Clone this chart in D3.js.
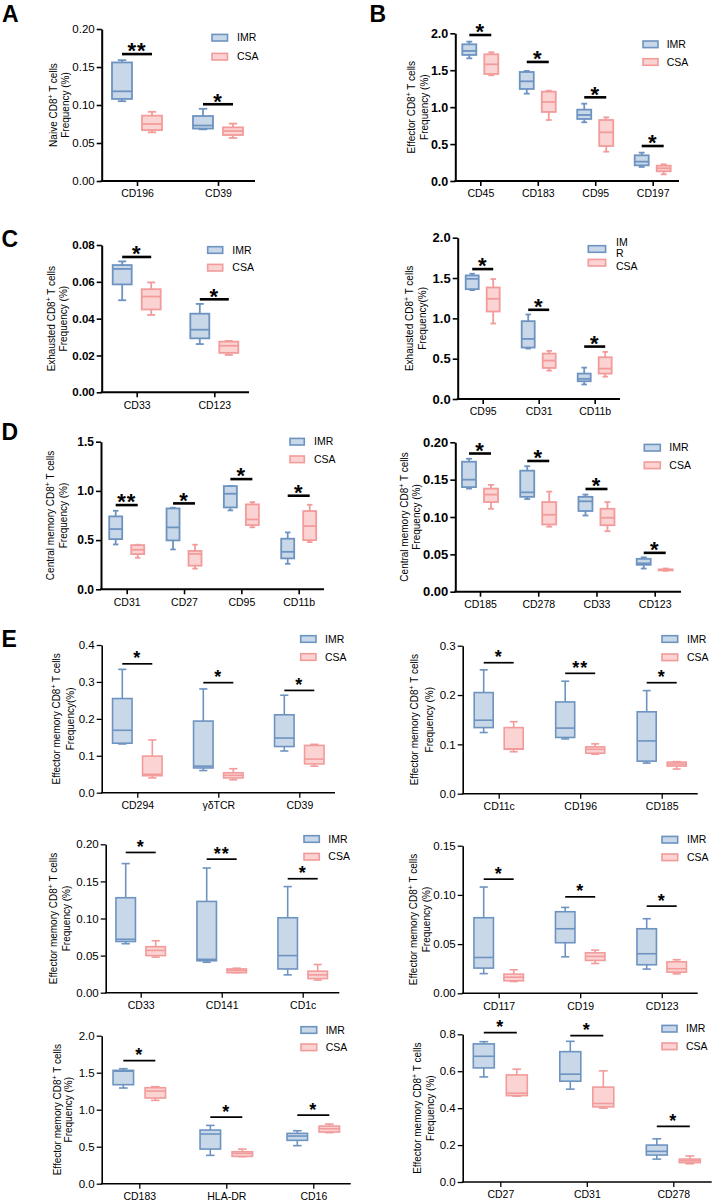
<!DOCTYPE html>
<html><head><meta charset="utf-8">
<script src="https://cdn.jsdelivr.net/npm/d3@7"></script>
<style>
body{margin:0;background:#fff;}
svg text{font-family:Arial,"Liberation Sans",sans-serif;}
</style></head><body>
<svg id="fig" width="712" height="1201"></svg>
<script>
// ---------------- DATA ----------------
// each box: [min, q1, median, q3, max]
const series = ["IMR", "CSA"];

const catsA = ["CD196", "CD39"];
const imrA = [[0.105,0.108,0.118,0.156,0.159],[0.068,0.069,0.073,0.0855,0.095]];
const csaA = [[0.064,0.067,0.075,0.086,0.091],[0.0566,0.0605,0.0658,0.0706,0.0755]];
const sigA = ["**","*"];
const sigYA = [0.167,0.101];
const ticksA = [0,0.05,0.10,0.15,0.20];
const titleA = ["Naive CD8⁺ T cells","Frequency (%)"];

const catsB = ["CD45","CD183","CD95","CD197"];
const imrB = [[1.661,1.707,1.761,1.851,1.887],[1.183,1.246,1.350,1.476,1.490],[0.795,0.840,0.894,0.966,1.047],[0.190,0.212,0.262,0.348,0.384]];
const csaB = [[1.431,1.449,1.580,1.716,1.743],[0.826,0.935,1.070,1.210,1.223],[0.397,0.474,0.659,0.826,0.862],[0.090,0.131,0.172,0.208,0.226]];
const sigB = ["*","*","*","*"];
const sigYB = [1.977,1.612,1.133,0.474];
const ticksB = [0,0.5,1.0,1.5,2.0];
const titleB = ["Effector CD8⁺ T cells","Frequency (%)"];

const catsC1 = ["CD33","CD123"];
const imrC1 = [[0.050,0.0586,0.067,0.0691,0.0711],[0.0262,0.0293,0.034,0.0427,0.048]];
const csaC1 = [[0.042,0.045,0.052,0.056,0.0597],[0.0203,0.0214,0.0253,0.0275,0.0279]];
const sigC1 = ["*","*"];
const sigYC1 = [0.0735,0.0505];
const ticksC1 = [0,0.02,0.04,0.06,0.08];
const titleC1 = ["Exhausted CD8⁺ T cells","Frequency (%)"];

const catsC2 = ["CD95","CD31","CD11b"];
const imrC2 = [[1.35,1.362,1.49,1.532,1.553],[0.625,0.638,0.745,0.965,1.048],[0.18,0.22,0.25,0.315,0.389]];
const csaC2 = [[0.936,1.085,1.242,1.383,1.487],[0.352,0.385,0.476,0.563,0.596],[0.277,0.315,0.377,0.518,0.584]];
const sigC2 = ["*","*","*"];
const sigYC2 = [1.611,1.106,0.650];
const ticksC2 = [0,0.5,1.0,1.5,2.0];
const titleC2 = ["Exhausted CD8⁺ T cells","Frequency(%)"];

const catsD1 = ["CD31","CD27","CD95","CD11b"];
const imrD1 = [[0.456,0.510,0.612,0.741,0.798],[0.405,0.497,0.629,0.822,0.829],[0.802,0.832,0.971,1.049,1.049],[0.259,0.314,0.381,0.514,0.578]];
const csaD1 = [[0.320,0.358,0.402,0.449,0.453],[0.21,0.24,0.36,0.39,0.453],[0.63,0.653,0.71,0.863,0.886],[0.480,0.500,0.642,0.795,0.859]];
const sigD1 = ["**","*","*","*"];
const sigYD1 = [0.856,0.873,1.120,0.951];
const ticksD1 = [0,0.5,1.0,1.5];
const titleD1 = ["Central memory CD8⁺ T cells","Frequency (%)"];

const catsD2 = ["CD185","CD278","CD33","CD123"];
const imrD2 = [[0.138,0.140,0.150,0.174,0.178],[0.124,0.127,0.133,0.162,0.168],[0.102,0.108,0.121,0.127,0.130],[0.031,0.036,0.038,0.044,0.046]];
const csaD2 = [[0.111,0.120,0.130,0.138,0.143],[0.087,0.090,0.103,0.120,0.134],[0.081,0.089,0.099,0.111,0.120],[0.028,0.0285,0.029,0.030,0.031]];
const sigD2 = ["*","*","*","*"];
const sigYD2 = [0.185,0.175,0.1375,0.052];
const ticksD2 = [0,0.05,0.10,0.15,0.20];
const titleD2 = ["Central memory CD8⁺ T cells","Frequency (%)"];

const catsE1 = ["CD294","γδTCR","CD39"];
const imrE1 = [[0.132,0.134,0.169,0.255,0.334],[0.060,0.067,0.072,0.194,0.281],[0.113,0.125,0.148,0.211,0.264]];
const csaE1 = [[0.040,0.046,0.050,0.099,0.143],[0.035,0.040,0.047,0.054,0.065],[0.072,0.078,0.091,0.128,0.131]];
const sigE1 = ["*","*","*"];
const sigYE1 = [0.349,0.298,0.277];
const ticksE1 = [0,0.1,0.2,0.3,0.4];
const titleE1 = ["Effector memory CD8⁺ T cells","Frequency(%)"];

const catsE2 = ["CD11c","CD196","CD185"];
const imrE2 = [[0.124,0.134,0.149,0.205,0.251],[0.111,0.114,0.133,0.186,0.228],[0.062,0.066,0.107,0.166,0.209]];
const csaE2 = [[0.085,0.090,0.091,0.134,0.146],[0.080,0.082,0.090,0.095,0.101],[0.050,0.056,0.060,0.064,0.065]];
const sigE2 = ["*","**","*"];
const sigYE2 = [0.2655,0.244,0.225];
const ticksE2 = [0,0.1,0.2,0.3];
const titleE2 = ["Effector memory CD8⁺ T cells","Frequency (%)"];

const catsE3 = ["CD33","CD141","CD1c"];
const imrE3 = [[0.066,0.069,0.072,0.128,0.174],[0.041,0.043,0.045,0.123,0.168],[0.024,0.032,0.050,0.101,0.143]];
const csaE3 = [[0.048,0.050,0.057,0.062,0.070],[0.027,0.027,0.030,0.032,0.033],[0.017,0.019,0.024,0.029,0.038]];
const sigE3 = ["*","**","*"];
const sigYE3 = [0.189,0.180,0.1536];
const ticksE3 = [0,0.05,0.10,0.15,0.20];
const titleE3 = ["Effector memory CD8⁺ T cells","Frequency (%)"];

const catsE4 = ["CD117","CD19","CD123"];
const imrE4 = [[0.020,0.0256,0.0364,0.0768,0.108],[0.0371,0.0514,0.0656,0.0829,0.0873],[0.0246,0.029,0.0402,0.0656,0.0758]];
const csaE4 = [[0.012,0.0127,0.0164,0.0195,0.0239],[0.0303,0.0334,0.0375,0.0412,0.0439],[0.0198,0.0215,0.025,0.032,0.0341]];
const sigE4 = ["*","*","*"];
const sigYE4 = [0.116,0.098,0.0886];
const ticksE4 = [0,0.05,0.10,0.15];
const titleE4 = ["Effector memory CD8⁺ T cells","Frequency (%)"];

const catsE5 = ["CD183","HLA-DR","CD16"];
const imrE5 = [[1.293,1.338,1.52,1.532,1.554],[0.383,0.468,0.671,0.725,0.788],[0.514,0.586,0.644,0.680,0.716]];
const csaE5 = [[1.126,1.158,1.252,1.297,1.311],[0.365,0.369,0.410,0.432,0.468],[0.690,0.698,0.743,0.779,0.806]];
const sigE5 = ["*","*","*"];
const sigYE5 = [1.662,0.901,0.928];
const ticksE5 = [0,0.5,1.0,1.5,2.0];
const titleE5 = ["Effector memory CD8⁺ T cells","Frequency (%)"];

const catsE6 = ["CD27","CD31","CD278"];
const imrE6 = [[0.569,0.618,0.681,0.748,0.760],[0.503,0.546,0.584,0.706,0.762],[0.124,0.146,0.166,0.200,0.234]];
const csaE6 = [[0.465,0.468,0.481,0.580,0.611],[0.400,0.407,0.425,0.514,0.602],[0.099,0.105,0.115,0.124,0.141]];
const sigE6 = ["*","*","*"];
const sigYE6 = [0.809,0.793,0.301];
const ticksE6 = [0,0.2,0.4,0.6,0.8];
const titleE6 = ["Effector memory CD8⁺ T cells","Frequency (%)"];

const letters = ["A","B","C","D","E"];

// ---------------- STYLE / LAYOUT ----------------
const COL = {
  IMR: {stroke:"#6d93c1", fill:"#c9d8e8"},
  CSA: {stroke:"#f29b9b", fill:"#fcd3d3"}
};
const styleOld = {aw:2, bsw:1.8, sw:2.6, starFs:22, starDy:4.4};
const styleE   = {aw:1.6, bsw:1.6, sw:1.7, starFs:18, starDy:0.6};

const panels = [
 {L:{ax:101.7,yTop:29,yBot:181,xEnd:255,tx:[137,218],fmt:".2f",tfs:11.5,tbold:false,off:15,bw:20,legX:212,legW:15.5,legY:[37.7,56.7],legTX:237,lab:[-48.4,-36.7]},S:styleOld,
  cats:catsA,imr:imrA,csa:csaA,sig:sigA,sigY:sigYA,ticks:ticksA,title:titleA},
 {L:{ax:455.3,yTop:33.3,yBot:181,xEnd:679,tx:[480.3,652.7],fmt:".1f",tfs:12.5,tbold:true,off:11,bw:14,legX:643,legW:15,legY:[44.3,62],legTX:666.7,lab:[-44.3,-31]},S:styleOld,
  cats:catsB,imr:imrB,csa:csaB,sig:sigB,sigY:sigYB,ticks:ticksB,title:titleB},
 {L:{ax:101.7,yTop:245,yBot:392.3,xEnd:249,tx:[136.7,214.3],fmt:".2f",tfs:11.5,tbold:true,off:14.5,bw:19,legX:207.7,legW:15,legY:[250,267.7],legTX:232.3,lab:[-50.7,-38.4]},S:styleOld,
  cats:catsC1,imr:imrC1,csa:csaC1,sig:sigC1,sigY:sigYC1,ticks:ticksC1,title:titleC1},
 {L:{ax:457.7,yTop:237.7,yBot:399,xEnd:620,tx:[482.7,594.7],fmt:".1f",tfs:13,tbold:true,off:10.5,bw:13,legX:588.3,legW:17.3,legY:[249,262.7],legTX:616,lab:[-48.4,-35],wrap:true},S:styleOld,
  cats:catsC2,imr:imrC2,csa:csaC2,sig:sigC2,sigY:sigYC2,ticks:ticksC2,title:titleC2},
 {L:{ax:101,yTop:441.7,yBot:589.3,xEnd:324,tx:[126.7,298.7],fmt:".1f",tfs:12,tbold:true,off:11,bw:13,legX:290,legW:14.3,legY:[441.7,459.3],legTX:314,lab:[-51,-38]},S:styleOld,
  cats:catsD1,imr:imrD1,csa:csaD1,sig:sigD1,sigY:sigYD1,ticks:ticksD1,title:titleD1},
 {L:{ax:455.3,yTop:442.3,yBot:591.7,xEnd:681,tx:[480,654.7],fmt:".2f",tfs:13,tbold:true,off:11,bw:14,legX:644.3,legW:16,legY:[447.7,465.3],legTX:669.3,lab:[-51,-39]},S:styleOld,
  cats:catsD2,imr:imrD2,csa:csaD2,sig:sigD2,sigY:sigYD2,ticks:ticksD2,title:titleD2},
 {L:{ax:101.7,yTop:645,yBot:792.7,xEnd:335,tx:[137.3,299.3],fmt:".1f",tfs:11.5,tbold:false,off:15,bw:19.5,legX:300.7,legW:15.3,legY:[639,657],legTX:325,lab:[-45,-31]},S:styleE,
  cats:catsE1,imr:imrE1,csa:csaE1,sig:sigE1,sigY:sigYE1,ticks:ticksE1,title:titleE1},
 {L:{ax:462.7,yTop:645.7,yBot:793.7,xEnd:697.7,tx:[498.7,661.7],fmt:".1f",tfs:11.5,tbold:false,off:15,bw:19,legX:662,legW:15.7,legY:[639,657.3],legTX:687,lab:[-48.7,-33.7]},S:styleE,
  cats:catsE2,imr:imrE2,csa:csaE2,sig:sigE2,sigY:sigYE2,ticks:ticksE2,title:titleE2},
 {L:{ax:105.7,yTop:844.3,yBot:992.7,xEnd:339.3,tx:[140.7,302.7],fmt:".2f",tfs:11.5,tbold:false,off:15,bw:19.5,legX:304,legW:15.3,legY:[839,856.7],legTX:328.3,lab:[-52,-39]},S:styleE,
  cats:catsE3,imr:imrE3,csa:csaE3,sig:sigE3,sigY:sigYE3,ticks:ticksE3,title:titleE3},
 {L:{ax:462.7,yTop:845.7,yBot:993.3,xEnd:697.7,tx:[498.7,661.7],fmt:".2f",tfs:11.5,tbold:false,off:15,bw:19.5,legX:662,legW:15.7,legY:[839.7,857.3],legTX:687,lab:[-49,-36.7]},S:styleE,
  cats:catsE4,imr:imrE4,csa:csaE4,sig:sigE4,sigY:sigYE4,ticks:ticksE4,title:titleE4},
 {L:{ax:101.7,yTop:1035.7,yBot:1183.7,xEnd:350.7,tx:[139.3,313.3],fmt:".1f",tfs:11.5,tbold:false,off:16,bw:20.5,legX:301,legW:15.7,legY:[1030,1047.3],legTX:325.7,lab:[-44,-33.7]},S:styleE,
  cats:catsE5,imr:imrE5,csa:csaE5,sig:sigE5,sigY:sigYE5,ticks:ticksE5,title:titleE5},
 {L:{ax:462.7,yTop:1034.3,yBot:1182,xEnd:711.7,tx:[500.3,673.3],fmt:".1f",tfs:11.5,tbold:false,off:16.5,bw:21,legX:662,legW:15,legY:[1028.7,1046.3],legTX:686,lab:[-45.7,-32.7]},S:styleE,
  cats:catsE6,imr:imrE6,csa:csaE6,sig:sigE6,sigY:sigYE6,ticks:ticksE6,title:titleE6}
];
const letterPos = [[2,21.5],[369.5,21.5],[1.5,246.7],[1.5,440],[1.5,646.7]];

// ---------------- DRAW ----------------
const svg = d3.select("#fig");
svg.append("rect").attr("width",712).attr("height",1201).attr("fill","#fff");

function drawPanel(P){
  const L = P.L, S = P.S;
  const g = svg.append("g");
  const max = d3.max(P.ticks);
  const y = d3.scaleLinear().domain([0,max]).range([L.yBot,L.yTop]);
  const x = d3.scalePoint().domain(P.cats).range(L.tx);
  const fmt = d3.format(L.fmt);

  // y axis
  const ya = g.append("g").attr("transform",`translate(${L.ax},0)`)
    .call(d3.axisLeft(y).tickValues(P.ticks).tickFormat(fmt).tickSize(5).tickSizeOuter(0).tickPadding(2));
  ya.attr("font-family",null).attr("font-size",null);
  ya.select(".domain").attr("stroke","#000").attr("stroke-width",S.aw);
  ya.selectAll(".tick line").attr("stroke","#000").attr("stroke-width",S.aw*0.8);
  ya.selectAll(".tick text").attr("fill","#000").attr("font-size",L.tfs).attr("font-weight",L.tbold?"bold":"normal");

  // x axis
  const xa = g.append("g").attr("transform",`translate(0,${L.yBot})`)
    .call(d3.axisBottom(x).tickSize(5).tickSizeOuter(0).tickPadding(4));
  xa.attr("font-family",null).attr("font-size",null);
  xa.select(".domain").remove();
  xa.append("line").attr("x1",L.ax - S.aw/2).attr("x2",L.xEnd).attr("y1",0).attr("y2",0)
    .attr("stroke","#000").attr("stroke-width",S.aw);
  xa.selectAll(".tick line").attr("stroke","#000").attr("stroke-width",S.aw*0.8);
  xa.selectAll(".tick text").attr("fill","#000").attr("font-size",10.5);

  // boxes
  const groups = [[P.imr,-1,COL.IMR],[P.csa,1,COL.CSA]];
  groups.forEach(([arr,s,c])=>{
    const bg = g.append("g").selectAll("g")
      .data(arr.map((v,i)=>({v:v,c:P.cats[i]}))).join("g")
      .attr("transform",d=>`translate(${x(d.c)+s*L.off},0)`)
      .attr("stroke",c.stroke).attr("stroke-width",S.bsw);
    const cw = L.bw*0.42;
    bg.append("line").attr("x1",0).attr("x2",0).attr("y1",d=>y(d.v[4])).attr("y2",d=>y(d.v[3]));
    bg.append("line").attr("x1",0).attr("x2",0).attr("y1",d=>y(d.v[1])).attr("y2",d=>y(d.v[0]));
    bg.append("line").attr("x1",-cw/2).attr("x2",cw/2).attr("y1",d=>y(d.v[4])).attr("y2",d=>y(d.v[4]));
    bg.append("line").attr("x1",-cw/2).attr("x2",cw/2).attr("y1",d=>y(d.v[0])).attr("y2",d=>y(d.v[0]));
    bg.append("rect").attr("x",-L.bw/2).attr("width",L.bw)
      .attr("y",d=>y(d.v[3])).attr("height",d=>Math.max(0.5,y(d.v[1])-y(d.v[3])))
      .attr("fill",c.fill);
    bg.append("line").attr("x1",-L.bw/2).attr("x2",L.bw/2).attr("y1",d=>y(d.v[2])).attr("y2",d=>y(d.v[2]));
  });

  // significance
  const sg = g.append("g").selectAll("g")
    .data(P.sig.map((s,i)=>({s:s,v:P.sigY[i],c:P.cats[i]}))).join("g");
  sg.append("line").attr("x1",d=>x(d.c)-L.off).attr("x2",d=>x(d.c)+L.off)
    .attr("y1",d=>y(d.v)).attr("y2",d=>y(d.v)).attr("stroke","#000").attr("stroke-width",S.sw);
  sg.append("text").attr("x",d=>x(d.c)).attr("y",d=>y(d.v)+S.starDy)
    .attr("text-anchor","middle").attr("font-size",S.starFs).attr("font-weight","bold")
    .attr("letter-spacing",1).text(d=>d.s);

  // legend
  series.forEach((name,i)=>{
    const c = COL[name];
    const ly = L.legY[i];
    g.append("rect").attr("x",L.legX).attr("y",ly-3.3).attr("width",L.legW).attr("height",6.6)
      .attr("fill",c.fill).attr("stroke",c.stroke).attr("stroke-width",1.6);
    if(L.wrap && i===0){
      g.append("text").attr("x",L.legTX).attr("y",ly-7).attr("dy","0.35em").attr("font-size",10.5).text(name.slice(0,2));
      g.append("text").attr("x",L.legTX).attr("y",ly+4.5).attr("dy","0.35em").attr("font-size",10.5).text(name.slice(2));
    } else {
      g.append("text").attr("x",L.legTX).attr("y",L.wrap?ly+4:ly).attr("dy","0.35em").attr("font-size",10.5).text(name);
    }
  });

  // y title
  const cy = (L.yTop+L.yBot)/2;
  P.title.forEach((line,k)=>{
    const t = g.append("text").attr("transform",`translate(${L.ax+L.lab[k]},${cy}) rotate(-90)`)
      .attr("text-anchor","middle").attr("dy","0.35em").attr("font-size",10);
    const parts = line.split("⁺");
    t.append("tspan").text(parts[0]);
    if(parts.length>1){
      t.append("tspan").attr("dy",-4).attr("font-size",7).text("+");
      t.append("tspan").attr("dy",4).text(parts[1]);
    }
  });
}
panels.forEach(drawPanel);

letters.forEach((l,i)=>{
  svg.append("text").attr("x",letterPos[i][0]).attr("y",letterPos[i][1])
    .attr("font-size",23).attr("font-weight","bold").text(l);
});
</script>
</body></html>
